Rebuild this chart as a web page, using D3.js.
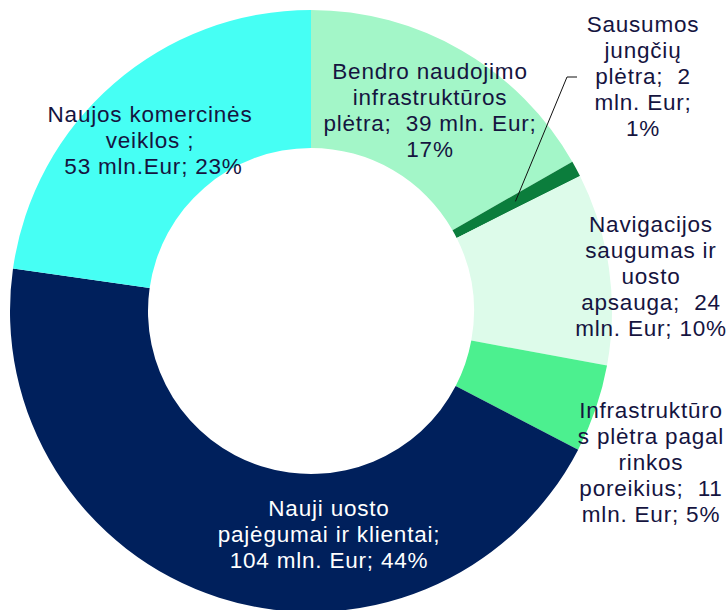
<!DOCTYPE html>
<html>
<head>
<meta charset="utf-8">
<script src="https://cdn.jsdelivr.net/npm/d3@7/dist/d3.min.js"></script>
<style>
  html, body { margin: 0; padding: 0; background: #ffffff; }
  svg { display: block; }
  text { font-family: "Liberation Sans", Arial, sans-serif; white-space: pre; }
</style>
</head>
<body>
<div id="chart"></div>
<script>
// ---- data ----
const categories = [
  "Bendro naudojimo infrastruktūros plėtra",
  "Sausumos jungčių plėtra",
  "Navigacijos saugumas ir uosto apsauga",
  "Infrastruktūros plėtra pagal rinkos poreikius",
  "Nauji uosto pajėgumai ir klientai",
  "Naujos komercinės veiklos"
];
const values = [39, 2, 24, 11, 104, 53];
const colors = ["#a3f6c8", "#0b7d3c", "#ddfbea", "#4cf08f", "#00205c", "#46fff4"];
const labelLines = [
  ["Bendro naudojimo", "infrastruktūros", "plėtra;  39 mln. Eur;", "17%"],
  ["Sausumos", "jungčių", "plėtra;  2", "mln. Eur;", "1%"],
  ["Navigacijos", "saugumas ir", "uosto", "apsauga;  24", "mln. Eur; 10%"],
  ["Infrastruktūro", "s plėtra pagal", "rinkos", "poreikius;  11", "mln. Eur; 5%"],
  ["Nauji uosto", "pajėgumai ir klientai;", "104 mln. Eur; 44%"],
  ["Naujos komercinės", "veiklos ;", " 53 mln.Eur; 23%"]
];

// ---- layout ----
const W = 728, H = 610;
const cx = 311, cy = 311;
const outerR = 301, innerR = 163;
const lineH = 26;
// label anchor (center x, first baseline y) per slice
const labelPos = [
  [430, 79], [643, 32], [651, 232], [651, 418], [329, 516], [150, 122]
];
const textColors = ["#15143f", "#15143f", "#15143f", "#15143f", "#ffffff", "#15143f"];

const svg = d3.select("#chart").append("svg")
  .attr("width", W).attr("height", H);

const g = svg.append("g").attr("transform", `translate(${cx},${cy})`);

const pie = d3.pie().sort(null).value(d => d)(values);
const arc = d3.arc().innerRadius(innerR).outerRadius(outerR);

g.selectAll("path.slice")
  .data(pie)
  .join("path")
  .attr("class", "slice")
  .attr("d", arc)
  .attr("fill", (d, i) => colors[i]);

// leader line for the small slice
const c = arc.centroid(pie[1]);
const elbow = [567 - cx, 77 - cy];
const end = [577 - cx, 77 - cy];
g.append("path")
  .attr("d", d3.line()([c, elbow, end]))
  .attr("fill", "none")
  .attr("stroke", "#111111")
  .attr("stroke-width", 1);

// labels
labelLines.forEach((lines, i) => {
  const t = svg.append("text")
    .attr("text-anchor", "middle")
    .attr("font-size", 22.5)
    .attr("letter-spacing", 0.8)
    .attr("fill", textColors[i]);
  lines.forEach((ln, j) => {
    t.append("tspan")
      .attr("x", labelPos[i][0])
      .attr("y", labelPos[i][1] + j * lineH)
      .text(ln);
  });
});
</script>
</body>
</html>
